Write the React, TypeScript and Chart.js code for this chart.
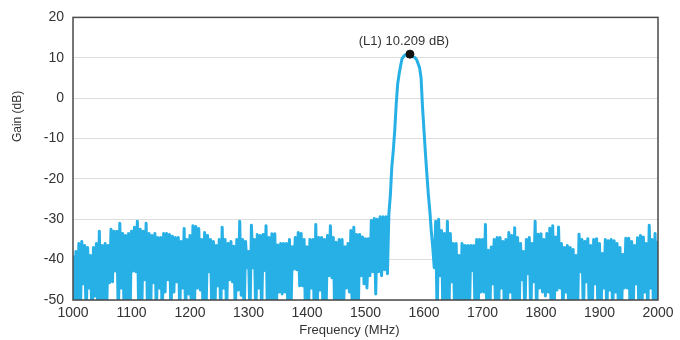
import { useEffect, useRef } from "react";
import { Chart, registerables } from "chart.js";

Chart.register(...registerables);

// Sweep grid: peaks sampled every 5 MHz from 1000 MHz, dips sampled half-way between them
const FREQ_START = 1000;
const FREQ_STEP = 5;

// Upper excursions of the measured trace (dB) at 1000, 1005, ... 2000 MHz
const upperDb = [
  -39, -38, -36, -35.5, -36.5, -37, -39, -37, -36, -33,
  -36.5, -36, -36.5, -32.5, -33, -33, -31, -33.5, -34, -33.5,
  -33, -32, -30.5, -32.5, -33, -31, -33.5, -34, -33.5, -34.5,
  -34.5, -33.5, -33.5, -33.8, -34.2, -34.5, -34.5, -35.5, -32.3, -35,
  -34, -31.6, -31.8, -32.3, -35, -33.3, -34, -35, -35.5, -36.5,
  -35, -32, -35, -36, -35.5, -36.7, -35, -30.5, -35, -35.5,
  -38, -31.5, -35, -33.8, -34, -33.8, -31.6, -34.5, -33.6, -33.6,
  -36.4, -36, -36, -36, -35, -36.8, -34.5, -33.3, -33.5, -35,
  -36.8, -35, -35, -31.3, -34.5, -34.5, -35, -34, -31.6, -34.5,
  -35.7, -35, -35, -36.8, -36, -32.8, -32, -33.8, -33.8, -34.4,
  -34.8, -34.8, -30.3, -29.8, -30, -29.4, -29.4, -29.4, -28.6, -17,
  -8, 3.5, 8, 10.3, 10.8, 10.6, 10.3, 10, 8.5, 5,
  -8, -19, -28, -37, -30.5, -30, -32.8, -33.5, -30.5, -33.5,
  -36, -36, -39, -36, -36.5, -36.5, -36.5, -36.5, -35, -35,
  -35, -31.3, -37.7, -36.9, -35, -34.5, -34.5, -35.5, -35, -33.3,
  -34, -32.1, -34.5, -36, -38, -35, -34.5, -36, -30.5, -33.7,
  -33.6, -35, -33.5, -32.2, -31.6, -34.4, -31.9, -36, -37, -36.5,
  -37, -37.5, -39, -33.7, -35, -35.5, -34.8, -36.5, -35, -34.8,
  -36, -38.5, -35, -35.3, -35, -35.3, -36, -37, -38.7, -34.7,
  -34.7, -35.5, -36.5, -34.6, -34, -34.4, -36, -31.5, -35, -33.5,
  -35.3,
];

// Lower excursions of the measured trace (dB) at 1002.5, 1007.5, ... 1997.5 MHz
const lowerDb = [
  -55, -53, -55, -46, -55, -47, -56, -49, -55, -54,
  -55, -53, -45.7, -45.5, -42.8, -55, -47, -55, -54, -55,
  -42.8, -43, -55, -54, -45, -55, -56, -45.7, -55, -47,
  -55, -48, -45, -55, -48, -45.5, -54, -47, -55, -48.5,
  -55, -54, -47, -47.5, -55, -53, -43, -55, -54, -46.5,
  -55, -47, -55, -45, -45.5, -54, -47.5, -48.8, -55, -42,
  -55, -42, -55, -47, -54, -42.7, -55, -53, -55, -54,
  -48, -48.5, -48, -55, -54, -42.3, -42.5, -46.5, -46.5, -55,
  -54, -47, -55, -53, -47.5, -55, -54, -44, -44.5, -55,
  -54, -55, -53, -47, -48, -55, -54, -55, -44, -46,
  -47, -44, -43, -48.5, -43, -44, -42.5, -43.5, -24, -13,
  -1.5, 6, 9.8, 10.7, 10.4, 10.5, 10.2, 9.5, 7.5, -2.3,
  -13.8, -24, -33, -42, -55, -44, -55, -54, -55, -45.5,
  -54, -55, -53, -55, -54, -55, -42.7, -55, -54, -48,
  -48, -55, -54, -46, -55, -54, -47, -55, -54, -48,
  -55, -54, -55, -45, -55, -43.5, -55, -45.5, -55, -47,
  -48, -49, -48, -55, -54, -47.5, -47, -55, -48, -55,
  -54, -55, -54, -43, -55, -45.5, -54, -55, -46, -55,
  -54, -47, -55, -47.5, -55, -48, -54, -55, -47, -47,
  -55, -54, -46, -55, -54, -48, -55, -47, -55, -54,
];

// Marker L1
const markerFreq = [1576];
const markerGain = [10.9];
const markerLabel = "(L1) 10.209 dB)";

const xTicks = [1000, 1100, 1200, 1300, 1400, 1500, 1600, 1700, 1800, 1900, 2000];
const yTicks = [20, 10, 0, -10, -20, -30, -40, -50];

const xTitle = "Frequency (MHz)";
const yTitle = "Gain (dB)";

const FONT = "'Liberation Sans', Arial, sans-serif";
const TEXT = "#333333";

export default function App() {
  const ref = useRef<HTMLCanvasElement | null>(null);

  useEffect(() => {
    if (!ref.current) return;
    const pts: { x: number; y: number }[] = [];
    upperDb.forEach((u, i) => {
      const f = FREQ_START + i * FREQ_STEP;
      pts.push({ x: f, y: u });
      if (i < lowerDb.length) pts.push({ x: f + FREQ_STEP / 2, y: lowerDb[i] });
    });
    const markerPts = markerFreq.map((f, i) => ({ x: f, y: markerGain[i] }));

    const overlay = {
      id: "overlay",
      afterDraw(chart: any) {
        const { ctx, chartArea: a, scales } = chart;
        ctx.save();
        ctx.strokeStyle = "#4a4a4a";
        ctx.lineWidth = 1.5;
        ctx.strokeRect(a.left, a.top, a.right - a.left, a.bottom - a.top);

        const mx = scales.x.getPixelForValue(markerFreq[0]);
        const my = scales.y.getPixelForValue(markerGain[0]);
        ctx.fillStyle = TEXT;
        ctx.font = `13px ${FONT}`;
        ctx.textAlign = "center";
        ctx.textBaseline = "middle";
        ctx.fillText(markerLabel, mx - 6, my - 13);

        ctx.font = `13px ${FONT}`;
        ctx.fillText(xTitle, a.left + (a.right - a.left) / 2 - 16, a.bottom + 30);

        ctx.translate(18, a.top + 99);
        ctx.rotate(-Math.PI / 2);
        ctx.font = `12px ${FONT}`;
        ctx.fillText(yTitle, 0, 0);
        ctx.restore();
      },
    };

    const chart = new Chart(ref.current, {
      type: "line",
      data: {
        datasets: [
          {
            data: markerPts,
            showLine: false,
            pointRadius: 4,
            pointBackgroundColor: "#111111",
            pointBorderColor: "#111111",
            clip: false as any,
          },
          {
            data: pts,
            borderColor: "#26b0e6",
            borderWidth: 3,
            pointRadius: 0,
            tension: 0,
            borderJoinStyle: "round",
            clip: 0 as any,
          },
        ],
      },
      options: {
        animation: false,
        responsive: false,
        devicePixelRatio: 1,
        layout: { padding: { top: 16, right: 22, left: 0, bottom: 0 } },
        plugins: { legend: { display: false }, tooltip: { enabled: false } },
        scales: {
          x: {
            type: "linear",
            min: 1000,
            max: 2000,
            afterBuildTicks: (s: any) => {
              s.ticks = xTicks.map((v) => ({ value: v }));
            },
            afterFit: (s: any) => {
              s.height = 40;
            },
            grid: { display: false, drawTicks: false },
            border: { display: false },
            ticks: {
              color: TEXT,
              font: { size: 14, family: FONT },
              padding: 5,
              maxRotation: 0,
              callback: (v: any) => String(v),
            },
          },
          y: {
            type: "linear",
            min: -50,
            max: 20,
            afterBuildTicks: (s: any) => {
              s.ticks = yTicks.map((v) => ({ value: v }));
            },
            afterFit: (s: any) => {
              s.width = 73;
            },
            grid: { color: "#dddddd", lineWidth: 1, drawTicks: false },
            border: { display: false },
            ticks: {
              color: TEXT,
              font: { size: 14, family: FONT },
              padding: 9,
              callback: (v: any) => String(v),
            },
          },
        },
      },
      plugins: [overlay],
    });
    return () => chart.destroy();
  }, []);

  return (
    <div style={{ position: "absolute", left: 0, top: 0, width: 680, height: 340, background: "#fff" }}>
      <canvas ref={ref} width={680} height={340} />
    </div>
  );
}
